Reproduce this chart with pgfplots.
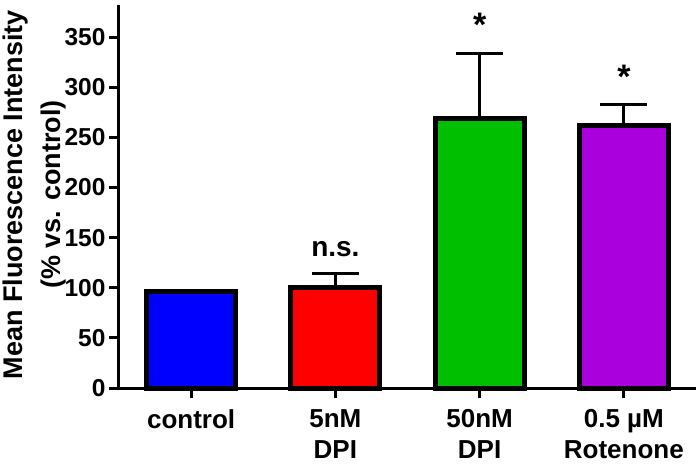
\documentclass[border=0pt]{standalone}
\usepackage{pgfplots}
\pgfplotsset{compat=1.18}
\usepackage{fontspec}
\setmainfont{Liberation Sans}
\definecolor{cblue}{RGB}{0,0,255}
\definecolor{cred}{RGB}{255,0,0}
\definecolor{cgreen}{RGB}{0,190,0}
\definecolor{cpurple}{RGB}{170,0,221}
\begin{document}
\begin{tikzpicture}
\begin{axis}[
 scale only axis, width=577pt, height=383pt,
 xmin=-0.5, xmax=3.5, ymin=0, ymax=382,
 axis x line=bottom, axis y line=left,
 axis line style={line width=3pt,-},
 clip=false,
 xtick={0,1,2,3},
 xticklabels={control, 5nM\\DPI, 50nM\\DPI, 0.5 µM\\Rotenone},
 xticklabel style={align=center, yshift=-8pt, font=\bfseries\fontsize{26}{31}\selectfont},
 ytick={0,50,...,350},
 yticklabel style={font=\bfseries\fontsize{24.5}{24}\selectfont},
 /pgf/number format/assume math mode=true,
 tick style={line width=3pt, black},
 major tick length=10pt,
 tick align=outside,
 ylabel={Mean Fluorescence Intensity\\(\% vs. control)},
 ylabel style={at={(axis description cs:-0.147,0.505)}, anchor=center, rotate=0, align=center, inner sep=0pt, font=\bfseries\fontsize{27}{38}\selectfont},
 every axis plot/.append style={ybar, bar shift=0pt, bar width=0.617, draw=black, line width=5pt},
]
\addplot[fill=cblue] coordinates {(0,96)};
\addplot[fill=cred, error bars/.cd, y dir=plus, y explicit, error bar style={line width=3pt, black}, error mark options={rotate=90, mark size=23.5pt, line width=3pt, black}] coordinates {(1,100) +- (0,14)};
\addplot[fill=cgreen, error bars/.cd, y dir=plus, y explicit, error bar style={line width=3pt, black}, error mark options={rotate=90, mark size=23.5pt, line width=3pt, black}] coordinates {(2,269) +- (0,65)};
\addplot[fill=cpurple, error bars/.cd, y dir=plus, y explicit, error bar style={line width=3pt, black}, error mark options={rotate=90, mark size=23.5pt, line width=3pt, black}] coordinates {(3,262) +- (0,21)};
\node[font=\bfseries\fontsize{28}{28}\selectfont, anchor=base, inner sep=0pt] at (axis cs:1,131.5) {n.s.};
\node[font=\bfseries\fontsize{34}{34}\selectfont, anchor=north, inner sep=0pt] at (axis cs:2,374) {*};
\node[font=\bfseries\fontsize{34}{34}\selectfont, anchor=north, inner sep=0pt] at (axis cs:3,322) {*};
\coordinate (bl) at (rel axis cs:0,0);
\coordinate (tr) at (rel axis cs:1,1);
\end{axis}
\pgfresetboundingbox
\useasboundingbox ([xshift=-119pt,yshift=-76pt]bl) rectangle ([yshift=5pt]tr);
\end{tikzpicture}
\end{document}
